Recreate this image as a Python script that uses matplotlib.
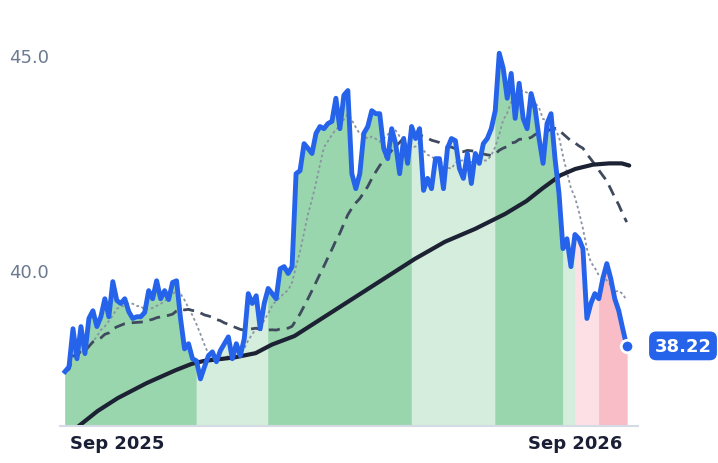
import numpy as np
import pandas as pd
import matplotlib
matplotlib.use("Agg")
import matplotlib.pyplot as plt
import matplotlib.dates as mdates

price_px = [373,368,330,360,328,355,320,312,328,318,300,318,283,302,305,300,313,320,318,318,
            314,292,300,282,300,292,301,284,282,320,350,345,360,362,380,368,357,353,363,352,
            345,338,360,345,357,340,295,305,297,330,305,290,295,300,270,268,275,268,175,172,
            145,150,155,135,128,130,125,123,100,130,97,92,175,190,175,135,128,112,115,115,
            150,160,130,145,175,140,165,128,140,130,192,180,190,160,160,190,150,140,142,170,
            180,155,185,155,165,145,140,130,112,55,70,100,75,120,85,120,130,95,110,140,
            165,125,115,160,195,250,240,268,236,240,250,320,305,295,300,280,265,280,300,312,
            330,348]
price = [round(45 - (p - 57) / 42.8, 2) for p in price_px]
price[-1] = 38.22
start_date, end_date = "2025-07-21", "2026-10-12"

long_ma_dates = ["2025-07-21","2025-08-01","2025-08-16","2025-09-01","2025-09-24","2025-10-17",
                 "2025-10-30","2025-11-09","2025-12-03","2025-12-20","2026-01-02","2026-01-20",
                 "2026-02-13","2026-03-09","2026-04-02","2026-04-26","2026-05-20","2026-06-13",
                 "2026-07-07","2026-07-24","2026-08-06","2026-08-20","2026-09-01","2026-09-15",
                 "2026-09-28","2026-10-08","2026-10-14"]
long_ma = [36.1,36.35,36.7,37.0,37.35,37.65,37.8,37.87,37.95,38.05,38.25,38.45,
           38.9,39.35,39.8,40.25,40.65,40.95,41.3,41.6,41.9,42.2,42.35,42.45,
           42.48,42.48,42.43]

seg_bounds = ["2025-07-21","2025-11-01","2025-12-28","2026-04-23","2026-06-29",
              "2026-08-20","2026-08-30","2026-09-17","2026-10-13"]
seg_colors = ["#9ad6ad","#d4eddc","#9ad6ad","#d4eddc","#9ad6ad","#d4eddc","#fde0e5","#f9bdc8"]

dates = pd.date_range(start_date, end_date, periods=len(price))
s = pd.Series(price, index=dates)
dotted = s.rolling(8, min_periods=1).mean()
dashed = s.rolling(28, min_periods=1).mean()

fig = plt.figure(figsize=(7.18, 4.64), dpi=100)
ax = fig.add_axes([60/718, 1-427/464, 578/718, 407/464])
ymin = 36.35
for i, c in enumerate(seg_colors):
    a, b = pd.Timestamp(seg_bounds[i]), pd.Timestamp(seg_bounds[i+1])
    idx = np.where((dates >= a) & (dates <= b))[0]
    if len(idx) == 0:
        continue
    i0, i1 = idx[0], min(idx[-1] + 1, len(dates) - 1)
    ax.fill_between(dates[i0:i1+1], ymin, s.iloc[i0:i1+1], color=c, lw=0.5, ec=c)
ax.plot(dates, dotted, color="#8a93a3", lw=1.3, ls=(0, (1.5, 1.5)))
ax.plot(dates, dashed, color="#3f4a5e", lw=2, ls=(0, (4, 2.5)))
ax.plot(pd.to_datetime(long_ma_dates), long_ma, color="#1c2233", lw=3, solid_capstyle="round")
ax.plot(dates, s, color="#2563eb", lw=3.5, solid_joinstyle="round")
ax.plot(dates[-1], price[-1], "o", color="#2563eb", ms=9, mec="white", mew=2, zorder=5)
ax.annotate(f"{price[-1]:.2f}", (dates[-1], price[-1]), xytext=(20, 0), textcoords="offset points",
            va="center", ha="left", color="white", fontsize=13, fontweight="bold",
            bbox=dict(boxstyle="round,pad=0.3,rounding_size=0.4", fc="#2563eb", ec="none"),
            annotation_clip=False)

ax.set_ylim(ymin, 45.85)
ax.set_xlim(pd.Timestamp("2025-07-17"), pd.Timestamp("2026-10-21"))
ax.set_yticks([40, 45])
ax.set_yticklabels(["40.0", "45.0"], color="#6b7a90", fontsize=13)
ax.set_xticks(pd.to_datetime(["2025-09-01", "2026-09-01"]))
ax.xaxis.set_major_formatter(mdates.DateFormatter("%b %Y"))
for t in ax.get_xticklabels():
    t.set_fontweight("bold"); t.set_fontsize(13); t.set_color("#1a1f36")
ax.tick_params(length=0, pad=6)
ax.tick_params(axis="y", pad=8)
for sp in ["top", "right", "left"]:
    ax.spines[sp].set_visible(False)
ax.spines["bottom"].set_color("#d5dbe5"); ax.spines["bottom"].set_linewidth(1.5)
fig.savefig("out.png", dpi=100)
